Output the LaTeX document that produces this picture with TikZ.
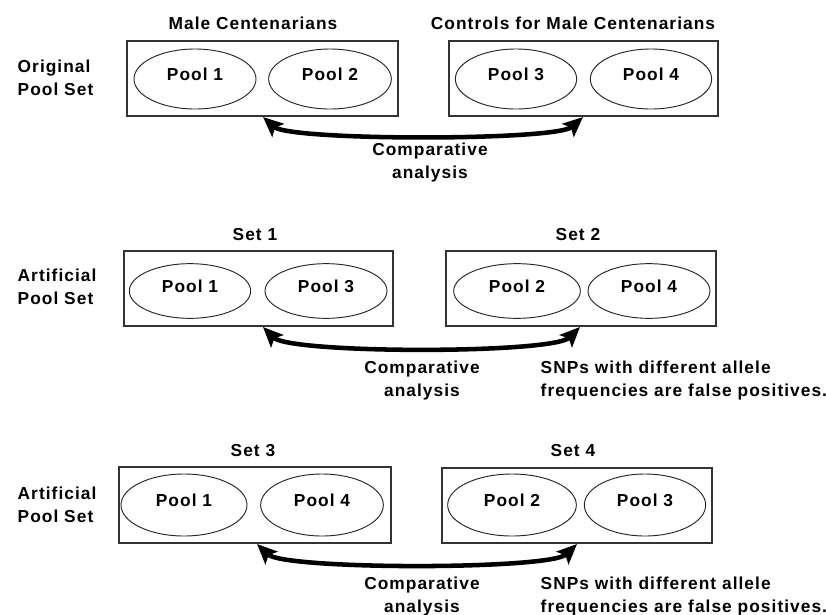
\documentclass[tikz,border=0pt]{standalone}
\usepackage{fontspec}
\newfontfamily\lbl{Liberation Sans}[LetterSpace=6]
\usetikzlibrary{shapes.geometric,arrows.meta}
\begin{document}
\begin{tikzpicture}[x=0.75pt,y=-0.75pt,
  every node/.style={font=\lbl\bfseries\fontsize{13}{17.25}\selectfont, text=black},
  setbox/.style={draw=black!80, line width=0.9pt, minimum height=56.25pt, inner sep=0pt},
  pool/.style={draw=black!85, line width=0.7pt, ellipse, inner sep=0pt, text depth=7pt},
  rowlabel/.style={anchor=west, align=left},
  note/.style={align=center},
  snp/.style={anchor=west, align=left},
  cmp/.style={line width=3.4pt, {Stealth[length=15pt,width=13pt,inset=3pt]}-{Stealth[length=15pt,width=13pt,inset=3pt]}}
]
\useasboundingbox (0,0) rectangle (826,615);
\fill[white] (0,0) rectangle (826,615);

% ---------- Row 1 ----------
\node[rowlabel] (r1) at (13,78) {Original\\Pool Set};
\node[setbox, minimum width=203.25pt] (b1) at (262.5,78.5) {};
\node[setbox, minimum width=201.75pt] (b2) at (583.5,78.5) {};
\node (t1) at (253,23) {Male Centenarians};
\node (t2) at (573,23) {Controls for Male Centenarians};
\node[pool, minimum width=91.5pt, minimum height=45pt] (p11) at (195,79) {Pool 1};
\node[pool, minimum width=92pt, minimum height=45pt] (p12) at (330,79) {Pool 2};
\node[pool, minimum width=91pt, minimum height=45pt] (p13) at (516,79) {Pool 3};
\node[pool, minimum width=91pt, minimum height=45pt] (p14) at (651,79) {Pool 4};
\coordinate (a1l) at (263,117);
\coordinate (a1r) at (583,117);
\draw[cmp] (a1l) .. controls (290,141) and (556,141) .. (a1r);
\node[note] (c1) at (430,163) {Comparative\\analysis};

% ---------- Row 2 ----------
\node[rowlabel] (r2) at (13,286.5) {Artificial\\Pool Set};
\node[setbox, minimum width=201.75pt] (b3) at (258.5,288.5) {};
\node[setbox, minimum width=202.5pt] (b4) at (581,288.5) {};
\node (t3) at (255,235) {Set 1};
\node (t4) at (578,235) {Set 2};
\node[pool, minimum width=91pt, minimum height=41pt] (p21) at (190,291) {Pool 1};
\node[pool, minimum width=91.5pt, minimum height=41pt] (p23) at (326,291) {Pool 3};
\node[pool, minimum width=95pt, minimum height=41pt] (p22) at (517,291) {Pool 2};
\node[pool, minimum width=91.5pt, minimum height=41pt] (p24) at (649,291) {Pool 4};
\coordinate (a2l) at (263,327);
\coordinate (a2r) at (580,327);
\draw[cmp] (a2l) .. controls (290,354) and (553,354) .. (a2r);
\node[note] (c2) at (422,380.5) {Comparative\\analysis};
\node[snp] (s2) at (536,380.5) {SNPs with different allele\\frequencies are false positives.};

% ---------- Row 3 ----------
\node[rowlabel] (r3) at (13,505) {Artificial\\Pool Set};
\node[setbox, minimum width=204pt, minimum height=57pt] (b5) at (255,505) {};
\node[setbox, minimum width=202.5pt] (b6) at (577,505.5) {};
\node (t5) at (253,451) {Set 3};
\node (t6) at (573,451) {Set 4};
\node[pool, minimum width=94.5pt, minimum height=46.5pt] (p31) at (184,505) {Pool 1};
\node[pool, minimum width=92pt, minimum height=46.5pt] (p34) at (322,505) {Pool 4};
\node[pool, minimum width=96.5pt, minimum height=46.5pt] (p32) at (512,505) {Pool 2};
\node[pool, minimum width=91pt, minimum height=46.5pt] (p33) at (645,505) {Pool 3};
\coordinate (a3l) at (257,544);
\coordinate (a3r) at (577,544);
\draw[cmp] (a3l) .. controls (284,570) and (550,570) .. (a3r);
\node[note] (c3) at (422,596.5) {Comparative\\analysis};
\node[snp] (s3) at (536,596.5) {SNPs with different allele\\frequencies are false positives.};
\end{tikzpicture}
\end{document}
